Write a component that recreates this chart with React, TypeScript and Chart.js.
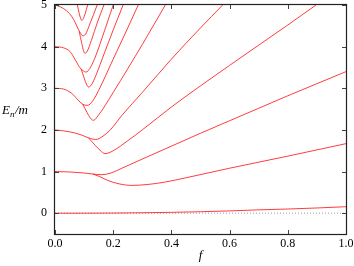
import React, { useEffect, useRef } from "react";
import { Chart, registerables } from "chart.js";

Chart.register(...registerables);

// Axis ticks
const xTicks = [0, 0.2, 0.4, 0.6, 0.8, 1.0];
const yTicks = [0, 1, 2, 3, 4, 5];

// Ground state
const groundF = [0, 0.1, 0.2, 0.3, 0.4, 0.5, 0.6, 0.7, 0.8, 0.9, 1.0];
const groundE = [0, 0, 0.003, 0.01, 0.02, 0.035, 0.055, 0.08, 0.1, 0.125, 0.155];

// Level 1 (shallow branch) and its deep branch
const lvl1F = [0, 0.05, 0.1, 0.13, 0.16, 0.19, 0.23, 0.3, 0.4, 0.5, 0.6, 0.7, 0.8, 0.9, 1.0];
const lvl1E = [1.0, 0.99, 0.965, 0.94, 0.925, 0.96, 1.08, 1.3, 1.61, 1.92, 2.22, 2.52, 2.82, 3.11, 3.4];
const deep1F = [0.13, 0.15, 0.18, 0.22, 0.264, 0.32, 0.38, 0.45, 0.6, 0.8, 1.0];
const deep1E = [0.94, 0.89, 0.79, 0.705, 0.667, 0.69, 0.75, 0.85, 1.08, 1.37, 1.67];

// Level 2
const lvl2F = [0, 0.05, 0.09, 0.115, 0.14, 0.165, 0.19, 0.23, 0.3, 0.4, 0.5, 0.576];
const lvl2E = [2.0, 1.955, 1.88, 1.81, 1.77, 1.85, 2.0, 2.35, 2.9, 3.7, 4.45, 5.0];
const deep2F = [0.115, 0.138, 0.155, 0.172, 0.2, 0.25, 0.3, 0.4, 0.6, 0.8, 0.897];
const deep2E = [1.81, 1.63, 1.51, 1.43, 1.5, 1.74, 2.0, 2.55, 3.55, 4.52, 5.0];

// Level 3
const lvl3F = [0, 0.03, 0.057, 0.086, 0.1, 0.112, 0.13, 0.15, 0.2, 0.25, 0.286];
const lvl3E = [3.0, 2.98, 2.88, 2.67, 2.6, 2.59, 2.7, 2.95, 3.7, 4.45, 5.0];
const deep3F = [0.095, 0.11, 0.122, 0.132, 0.149, 0.2, 0.25, 0.3, 0.379];
const deep3E = [2.62, 2.42, 2.28, 2.23, 2.35, 2.9, 3.47, 4.05, 5.0];

// Level 4
const lvl4F = [0, 0.03, 0.052, 0.07, 0.085, 0.095, 0.107, 0.12, 0.14, 0.17, 0.2];
const lvl4E = [4.0, 3.97, 3.88, 3.68, 3.5, 3.43, 3.39, 3.48, 3.78, 4.38, 5.0];
const deep4F = [0.09, 0.1, 0.108, 0.115, 0.125, 0.14, 0.17, 0.2, 0.234];
const deep4E = [3.46, 3.25, 3.1, 3.03, 3.08, 3.3, 3.85, 4.4, 5.0];

// Level 5
const lvl5F = [0, 0.02, 0.04, 0.058, 0.07, 0.08, 0.088, 0.095, 0.105, 0.12, 0.145];
const lvl5E = [5.0, 4.95, 4.86, 4.72, 4.57, 4.42, 4.32, 4.26, 4.3, 4.55, 5.0];
const deep5F = [0.083, 0.092, 0.098, 0.103, 0.11, 0.125, 0.145, 0.168];
const deep5E = [4.37, 4.08, 3.9, 3.84, 3.88, 4.15, 4.57, 5.0];

// Level 6 deep branch (enters from above)
const deep6F = [0.077, 0.083, 0.088, 0.092, 0.097, 0.104, 0.112];
const deep6E = [5.0, 4.8, 4.68, 4.63, 4.67, 4.8, 5.0];

// Zero reference line
const zeroF = [0, 1];
const zeroE = [0, 0];

const curves: [number[], number[]][] = [
  [groundF, groundE],
  [lvl1F, lvl1E], [deep1F, deep1E],
  [lvl2F, lvl2E], [deep2F, deep2E],
  [lvl3F, lvl3E], [deep3F, deep3E],
  [lvl4F, lvl4E], [deep4F, deep4E],
  [lvl5F, lvl5E], [deep5F, deep5E],
  [deep6F, deep6E],
];

const SERIF = "'Liberation Serif', 'DejaVu Serif', serif";

export default function App() {
  const ref = useRef<HTMLCanvasElement>(null);

  useEffect(() => {
    document.body.style.margin = "0";
    const canvas = ref.current!;

    const framePlugin = {
      id: "frame",
      afterDraw(chart: any) {
        const { ctx, chartArea } = chart;
        const { left, right, top, bottom } = chartArea;
        const xs = chart.scales.x;
        const ys = chart.scales.y;
        ctx.save();
        ctx.strokeStyle = "#444";
        ctx.lineWidth = 1;
        const tl = 4;
        ctx.beginPath();
        for (const v of xTicks) {
          const px = Math.round(xs.getPixelForValue(v)) + 0.5;
          ctx.moveTo(px, bottom);
          ctx.lineTo(px, bottom - tl);
          ctx.moveTo(px, top);
          ctx.lineTo(px, top + tl);
        }
        for (const v of yTicks) {
          const py = Math.round(ys.getPixelForValue(v)) + 0.5;
          ctx.moveTo(left, py);
          ctx.lineTo(left + tl, py);
          ctx.moveTo(right, py);
          ctx.lineTo(right - tl, py);
        }
        ctx.stroke();
        ctx.strokeStyle = "#222";
        ctx.lineWidth = 1.2;
        ctx.strokeRect(Math.round(left) - 0.5, Math.round(top) - 0.5, Math.round(right) - Math.round(left) + 1, Math.round(bottom) - Math.round(top) + 1);

        // axis titles
        ctx.fillStyle = "#000";
        ctx.textBaseline = "alphabetic";
        ctx.textAlign = "center";
        ctx.font = `italic 13px ${SERIF}`;
        ctx.fillText("f", (left + right) / 2, 259);

        ctx.textAlign = "left";
        let x = 2;
        const by = 114;
        ctx.font = `italic 13px ${SERIF}`;
        ctx.fillText("E", x, by);
        x += ctx.measureText("E").width;
        ctx.font = `italic 9px ${SERIF}`;
        ctx.fillText("n", x, by + 3);
        x += ctx.measureText("n").width + 0.5;
        ctx.font = `italic 13px ${SERIF}`;
        ctx.fillText("/m", x, by);
        ctx.restore();
      },
    };

    const datasets: any[] = curves.map(([fs, es]) => ({
      data: fs.map((f, i) => ({ x: f, y: es[i] })),
      borderColor: "#ff1a1a",
      borderWidth: 0.85,
      pointRadius: 0,
      fill: false,
      cubicInterpolationMode: "monotone",
    }));
    datasets.push({
      data: zeroF.map((f, i) => ({ x: f, y: zeroE[i] })),
      borderColor: "#9a9a9a",
      borderWidth: 1,
      borderDash: [1, 2],
      pointRadius: 0,
      fill: false,
    });

    const chart = new Chart(canvas, {
      type: "line",
      data: { datasets },
      options: {
        animation: false,
        responsive: false,
        events: [],
        layout: { padding: { top: 5, right: 8, left: 0, bottom: 0 } },
        plugins: { legend: { display: false }, tooltip: { enabled: false } },
        scales: {
          x: {
            type: "linear",
            min: 0,
            max: 1,
            grid: { display: false, drawTicks: false },
            border: { display: false },
            afterBuildTicks: (s: any) => {
              s.ticks = xTicks.map((v) => ({ value: v }));
            },
            afterFit: (s: any) => {
              s.height = 32;
              s.paddingLeft = 0;
              s.paddingRight = 0;
            },
            ticks: {
              color: "#000",
              padding: 3,
              maxRotation: 0,
              autoSkip: false,
              font: { family: SERIF, size: 12 },
              callback: (v: any) => Number(v).toFixed(1),
            },
          },
          y: {
            type: "linear",
            min: -0.5,
            max: 5,
            grid: { display: false, drawTicks: false },
            border: { display: false },
            afterBuildTicks: (s: any) => {
              s.ticks = yTicks.map((v) => ({ value: v }));
            },
            afterFit: (s: any) => {
              s.width = 55;
              s.paddingTop = 0;
              s.paddingBottom = 0;
            },
            ticks: {
              color: "#000",
              padding: 8,
              autoSkip: false,
              font: { family: SERIF, size: 12 },
              callback: (v: any) => String(v),
            },
          },
        },
      },
      plugins: [framePlugin],
    });
    return () => chart.destroy();
  }, []);

  return (
    <div style={{ position: "absolute", left: 0, top: 0, width: 354, height: 266 }}>
      <canvas ref={ref} width={354} height={266} style={{ display: "block" }} />
    </div>
  );
}
